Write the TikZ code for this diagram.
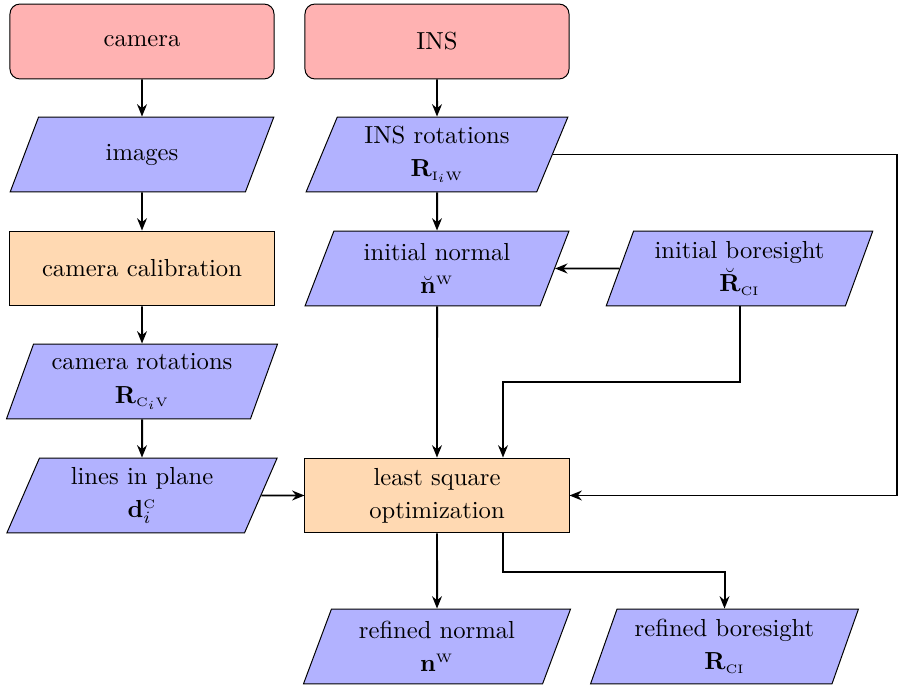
\documentclass[tikz,border=0pt]{standalone}
\usetikzlibrary{shapes.geometric,arrows.meta}
\newcommand{\frm}[1]{\mathrm{\scriptscriptstyle #1}}
\begin{document}
\begin{tikzpicture}[x=0.406pt,y=-0.406pt,
  source/.style={rectangle,rounded corners=4pt,draw,fill=red!30,minimum width=107.2pt,minimum height=30.4pt,align=center},
  process/.style={rectangle,draw,fill=orange!30,minimum width=107.2pt,minimum height=30.4pt,align=center},
  data/.style={trapezium,trapezium left angle=70,trapezium right angle=110,trapezium stretches=true,draw,fill=blue!30,minimum width=#1,minimum height=30.4pt,align=center,inner sep=2pt},
  data/.default=107.2pt,
  link/.style={thick,-{Stealth[length=5pt,width=4pt]}}]
\path[use as bounding box] (0,0) rectangle (902,685);

% left column
\node[source]  (cam)   at (142,41.5)  {camera};
\node[data]    (img)   at (142,154.5) {images};
\node[process] (calib) at (142,268.5) {camera calibration};
\node[data=110.4pt] (crot) at (142,381.5) {camera rotations\\[1.5pt]$\mathbf{R}_{\frm{C}_i\frm{V}}$};
\node[data=110.4pt] (lines) at (142,495.5) {lines in plane\\[1.5pt]$\mathbf{d}_i^{\frm{C}}$};

% middle column
\node[source]  (ins)   at (437,41.5)  {INS};
\node[data]    (irot)  at (437,154.5) {INS rotations\\[1.5pt]$\mathbf{R}_{\frm{I}_i\frm{W}}$};
\node[data]    (inorm) at (437,268.5) {initial normal\\[1.5pt]$\breve{\mathbf{n}}^{\frm{W}}$};
\node[process] (lso)   at (437,495.5) {least square\\[1.5pt]optimization};
\node[data=108.8pt] (rnorm) at (437,646.5) {refined normal\\[1.5pt]$\mathbf{n}^{\frm{W}}$};

% right column
\node[data=109.2pt] (ibore) at (739.5,268.5) {initial boresight\\[1.5pt]$\breve{\mathbf{R}}_{\frm{CI}}$};
\node[data=109.2pt] (rbore) at (724.5,646.5) {refined boresight\\[1.5pt]$\mathbf{R}_{\frm{CI}}$};

\coordinate (loopR) at (897,0);
\coordinate (bend1) at (0,382);
\coordinate (bend2) at (0,572);

% connectors
\draw[link] (cam) -- (img);
\draw[link] (img) -- (calib);
\draw[link] (calib) -- (crot);
\draw[link] (crot) -- (lines);
\draw[link] (lines) -- (lso);
\draw[link] (ins) -- (irot);
\draw[link] (irot) -- (inorm);
\draw[link] (inorm) -- (lso);
\draw[link] (ibore) -- (inorm);
\draw[link] (irot.east) -| (loopR |- lso.east) -- (lso.east);
\draw[link] (ibore.south) -- (ibore.south |- bend1) -| ([xshift=66*0.406pt]lso.north);
\draw[link] ([xshift=66*0.406pt]lso.south) -- ([xshift=66*0.406pt]lso.south |- bend2) -| (rbore.north);
\draw[link] (lso) -- (rnorm);
\end{tikzpicture}
\end{document}
